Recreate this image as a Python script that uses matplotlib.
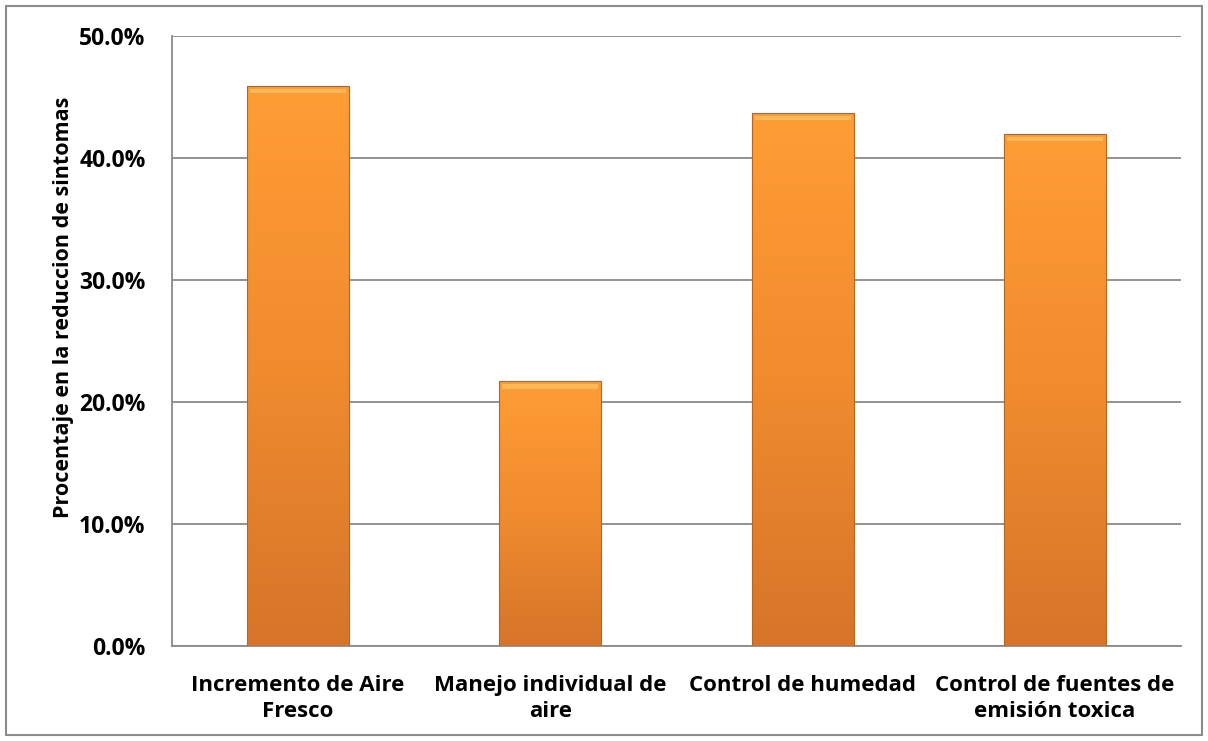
import numpy as np
import matplotlib.pyplot as plt
from matplotlib.colors import LinearSegmentedColormap
from matplotlib.patches import Rectangle
from matplotlib.ticker import FuncFormatter

categories = ["Incremento de Aire\nFresco", "Manejo individual de\naire",
              "Control de humedad", "Control de fuentes de\nemisión toxica"]
values = [0.459, 0.217, 0.437, 0.420]
y_ticks = [0.0, 0.1, 0.2, 0.3, 0.4, 0.5]

plt.rcParams["font.family"] = ["Open Sans", "DejaVu Sans"]
plt.rcParams["font.weight"] = "bold"

fig = plt.figure(figsize=(12.08, 7.41), dpi=100)
ax = fig.add_axes([0.1424, 0.1282, 0.8353, 0.8232])

# outer chart border
fig.patches.append(Rectangle((0.005, 0.008), 0.99, 0.984, transform=fig.transFigure,
                             fill=False, edgecolor="#8c8c8c", linewidth=1.5))

x = np.arange(len(categories))
width = 0.405
bars = ax.bar(x, values, width=width, color="none", edgecolor="#b8661f",
              linewidth=0.8, zorder=3)

# vertical gradient like the excel fill
cmap = LinearSegmentedColormap.from_list("orange", ["#d6752a", "#f08b2e", "#ff9d35"])
grad = np.linspace(0, 1, 256).reshape(-1, 1)
for b in bars:
    x0, y0 = b.get_x(), b.get_y()
    w, h = b.get_width(), b.get_height()
    im = ax.imshow(grad, cmap=cmap, origin="lower", aspect="auto",
                   extent=(x0, x0 + w, y0, y0 + h), zorder=2)
    im.set_clip_path(b)
    # light bevel strip at the top
    ax.add_patch(Rectangle((x0 + w * 0.03, y0 + h - 0.006), w * 0.94, 0.0035,
                           facecolor="#ffc060", edgecolor="none", alpha=0.8, zorder=4))

ax.set_xlim(-0.5, len(categories) - 0.5)
ax.set_ylim(0, 0.5)
ax.set_yticks(y_ticks)
ax.yaxis.set_major_formatter(FuncFormatter(lambda v, p: f"{v * 100:.1f}%"))
ax.set_xticks(x)
ax.set_xticklabels(categories, fontsize=16, fontweight="bold", linespacing=1.3)
ax.tick_params(axis="y", labelsize=16.5, length=0, pad=19)
ax.tick_params(axis="x", length=0, pad=21)

ax.grid(axis="y", color="#8a8a8a", linewidth=1.3, zorder=0)
ax.set_axisbelow(True)
for s in ["top", "right"]:
    ax.spines[s].set_visible(False)
ax.spines["left"].set_color("#8a8a8a")
ax.spines["bottom"].set_color("#8a8a8a")
ax.spines["left"].set_linewidth(1.3)
ax.spines["bottom"].set_linewidth(1.3)

ax.set_ylabel("Procentaje en la reduccion de sintomas", fontsize=15.5,
              fontweight="bold")
ax.yaxis.set_label_coords(-0.097, 0.556)

fig.savefig("out.png", dpi=100)
